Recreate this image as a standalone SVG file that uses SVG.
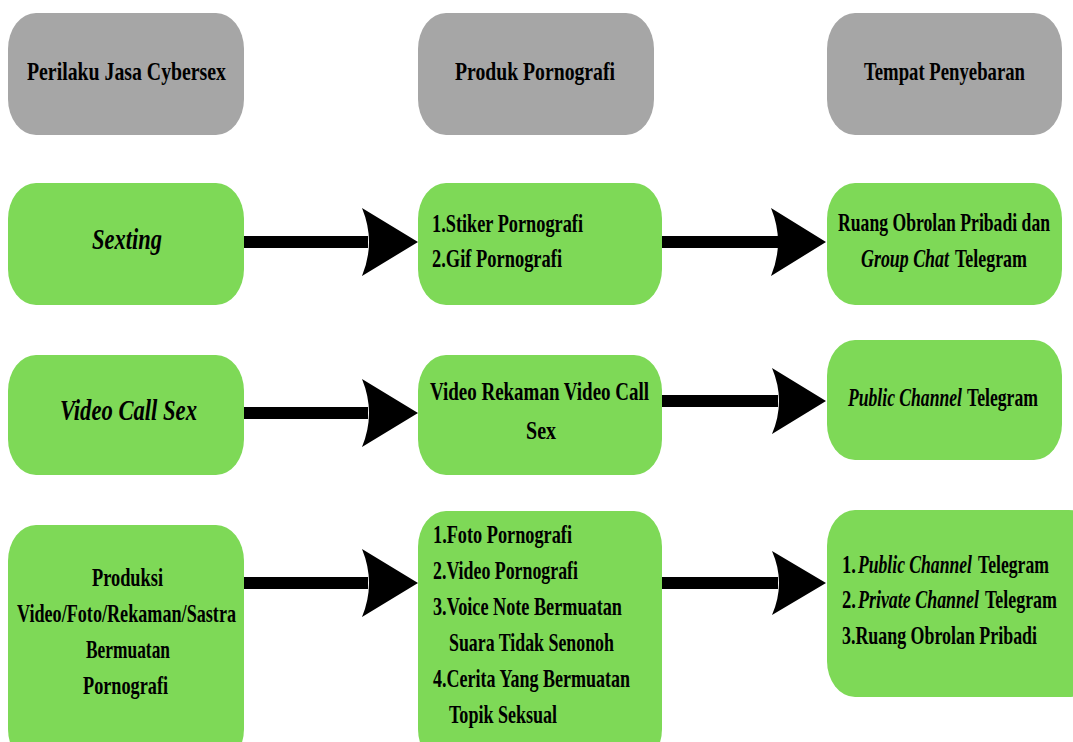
<svg xmlns="http://www.w3.org/2000/svg" width="1073" height="742" viewBox="0 0 1073 742">
<style>
.hdr{fill:#a6a6a6}
.box{fill:#7ed957}
text{font-family:"Liberation Serif","Times New Roman",serif;font-weight:bold;font-size:26px;fill:#000}
.it{font-style:italic}
.big{font-size:29px}
.arr{fill:#000}
</style>
<rect width="1073" height="742" fill="#fff"/>
<g id="h1"><rect class="hdr" x="8" y="13" width="236" height="122" rx="28" ry="36"/>
<text transform="translate(27,80) scale(.78,1)" textLength="255.1" lengthAdjust="spacingAndGlyphs">Perilaku Jasa Cybersex</text></g>
<g id="h2"><rect class="hdr" x="418" y="13" width="236" height="122" rx="28" ry="36"/>
<text transform="translate(455,80) scale(.78,1)" textLength="205.1" lengthAdjust="spacingAndGlyphs">Produk Pornografi</text></g>
<g id="h3"><rect class="hdr" x="827" y="13" width="235" height="122" rx="28" ry="36"/>
<text transform="translate(864,80) scale(.78,1)" textLength="206.4" lengthAdjust="spacingAndGlyphs">Tempat Penyebaran</text></g>

<g id="r1a"><rect class="box" x="8" y="183" width="236" height="122" rx="28" ry="36"/>
<text class="it big" transform="translate(92,249) scale(.78,1)" textLength="89.7" lengthAdjust="spacingAndGlyphs">Sexting</text></g>
<g id="r1b"><rect class="box" x="418" y="183" width="244" height="122" rx="28" ry="36"/>
<text transform="translate(432,232) scale(.78,1)" textLength="193.6" lengthAdjust="spacingAndGlyphs">1.Stiker Pornografi</text>
<text transform="translate(432,267) scale(.78,1)" textLength="166.7" lengthAdjust="spacingAndGlyphs">2.Gif Pornografi</text></g>
<g id="r1c"><rect class="box" x="827" y="183" width="235" height="122" rx="28" ry="36"/>
<text transform="translate(838,231) scale(.7,1)" textLength="302.9" lengthAdjust="spacingAndGlyphs">Ruang Obrolan Pribadi dan</text>
<text class="it" transform="translate(861,267) scale(.68,1)" textLength="129.4" lengthAdjust="spacingAndGlyphs">Group Chat</text>
<text transform="translate(955,267) scale(.78,1)" textLength="92.3" lengthAdjust="spacingAndGlyphs">Telegram</text></g>

<g id="r2a"><rect class="box" x="8" y="355" width="236" height="120" rx="28" ry="36"/>
<text class="it big" transform="translate(60,420) scale(.78,1)" textLength="175.6" lengthAdjust="spacingAndGlyphs">Video Call Sex</text></g>
<g id="r2b"><rect class="box" x="418" y="355" width="244" height="120" rx="28" ry="36"/>
<text transform="translate(430,400) scale(.78,1)" textLength="280.8" lengthAdjust="spacingAndGlyphs">Video Rekaman Video Call</text>
<text transform="translate(526,439) scale(.78,1)" textLength="38.5" lengthAdjust="spacingAndGlyphs">Sex</text></g>
<g id="r2c"><rect class="box" x="827" y="340" width="235" height="120" rx="28" ry="36"/>
<text class="it" transform="translate(848,406) scale(.68,1)" textLength="167.6" lengthAdjust="spacingAndGlyphs">Public Channel</text>
<text transform="translate(967,406) scale(.78,1)" textLength="91" lengthAdjust="spacingAndGlyphs">Telegram</text></g>

<g id="r3a"><rect class="box" x="8" y="525" width="236" height="240" rx="28" ry="36"/>
<text transform="translate(92,586) scale(.78,1)" textLength="91" lengthAdjust="spacingAndGlyphs">Produksi</text>
<text transform="translate(17,622) scale(.78,1)" textLength="280.8" lengthAdjust="spacingAndGlyphs">Video/Foto/Rekaman/Sastra</text>
<text transform="translate(86,658) scale(.78,1)" textLength="107.7" lengthAdjust="spacingAndGlyphs">Bermuatan</text>
<text transform="translate(83,694) scale(.78,1)" textLength="109" lengthAdjust="spacingAndGlyphs">Pornografi</text></g>
<g id="r3b"><rect class="box" x="418" y="511" width="244" height="254" rx="28" ry="36"/>
<text transform="translate(433,543) scale(.78,1)" textLength="178.2" lengthAdjust="spacingAndGlyphs">1.Foto Pornografi</text>
<text transform="translate(433,579) scale(.78,1)" textLength="185.9" lengthAdjust="spacingAndGlyphs">2.Video Pornografi</text>
<text transform="translate(433,615) scale(.78,1)" textLength="242.3" lengthAdjust="spacingAndGlyphs">3.Voice Note Bermuatan</text>
<text transform="translate(449,651) scale(.78,1)" textLength="211.5" lengthAdjust="spacingAndGlyphs">Suara Tidak Senonoh</text>
<text transform="translate(433,687) scale(.78,1)" textLength="252.6" lengthAdjust="spacingAndGlyphs">4.Cerita Yang Bermuatan</text>
<text transform="translate(449,723) scale(.78,1)" textLength="138.5" lengthAdjust="spacingAndGlyphs">Topik Seksual</text></g>
<g id="r3c"><rect class="box" x="827" y="510" width="270" height="187" rx="28" ry="36"/>
<text transform="translate(842,573) scale(.78,1)" textLength="17.9" lengthAdjust="spacingAndGlyphs">1.</text>
<text class="it" transform="translate(858,573) scale(.68,1)" textLength="167.6" lengthAdjust="spacingAndGlyphs">Public Channel</text>
<text transform="translate(978,573) scale(.78,1)" textLength="91" lengthAdjust="spacingAndGlyphs">Telegram</text>
<text transform="translate(842,608) scale(.78,1)" textLength="17.9" lengthAdjust="spacingAndGlyphs">2.</text>
<text class="it" transform="translate(858,608) scale(.68,1)" textLength="177.9" lengthAdjust="spacingAndGlyphs">Private Channel</text>
<text transform="translate(985,608) scale(.78,1)" textLength="92.3" lengthAdjust="spacingAndGlyphs">Telegram</text>
<text transform="translate(842,644) scale(.78,1)" textLength="250" lengthAdjust="spacingAndGlyphs">3.Ruang Obrolan Pribadi</text></g>

<g id="connectors" class="arr">
<rect x="244" y="236" width="124" height="12"/>
<path d="M362,208 L418,242 L362,276 Q376,242 362,208 Z"/>
<rect x="662" y="236" width="116" height="12"/>
<path d="M771,208 L826,242 L771,276 Q785,242 771,208 Z"/>
<rect x="244" y="407" width="124" height="12"/>
<path d="M362,379 L418,413 L362,447 Q376,413 362,379 Z"/>
<rect x="662" y="395" width="116" height="12"/>
<path d="M772,368 L826,401 L772,434 Q786,401 772,368 Z"/>
<rect x="244" y="577" width="124" height="12"/>
<path d="M362,549 L418,583 L362,617 Q376,583 362,549 Z"/>
<rect x="662" y="577" width="116" height="12"/>
<path d="M772,551 L826,583 L772,615 Q786,583 772,551 Z"/>
</g>
</svg>
